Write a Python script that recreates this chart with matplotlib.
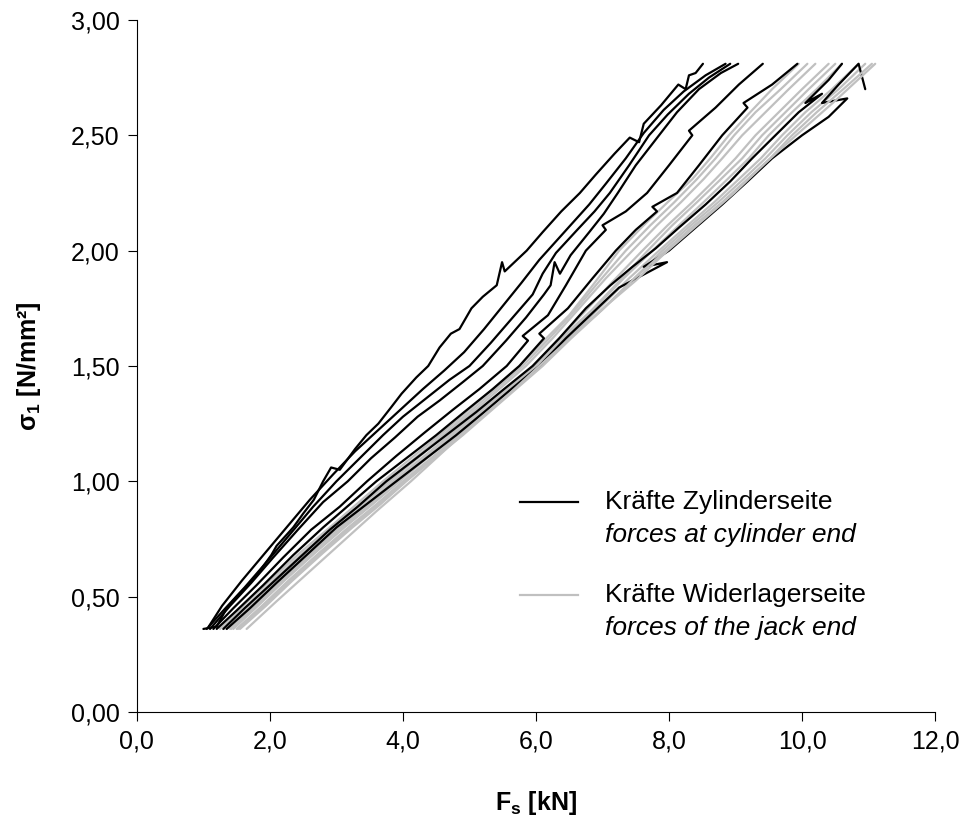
import matplotlib
matplotlib.use("Agg")
import matplotlib.pyplot as plt
from matplotlib.lines import Line2D

plt.rcParams["font.family"] = ["Liberation Sans", "DejaVu Sans"]
plt.rcParams["mathtext.fontset"] = "custom"
plt.rcParams["mathtext.rm"] = "Liberation Sans"
plt.rcParams["mathtext.it"] = "Liberation Sans:italic"
plt.rcParams["mathtext.bf"] = "Liberation Sans:bold"

# ---- axis ticks -------------------------------------------------------------
x_ticks = [0, 2, 4, 6, 8, 10, 12]
x_tick_labels = ["0,0", "2,0", "4,0", "6,0", "8,0", "10,0", "12,0"]
y_ticks = [0.0, 0.5, 1.0, 1.5, 2.0, 2.5, 3.0]
y_tick_labels = ["0,00", "0,50", "1,00", "1,50", "2,00", "2,50", "3,00"]

# ---- forces at cylinder end (black) : F_s [kN], sigma_1 [N/mm²] --------------
cyl1_f = [1.00, 1.20, 1.35, 1.50, 1.70, 1.82, 2.02, 2.10, 2.35, 2.50, 2.66, 2.80,
          2.92, 3.05, 3.28, 3.45, 3.63, 3.82, 3.98, 4.20, 4.38, 4.55, 4.72, 4.85,
          5.03, 5.20, 5.41, 5.49, 5.53, 5.86, 6.10, 6.38, 6.66, 6.90, 7.18, 7.41,
          7.55, 7.62, 7.88, 8.14, 8.25, 8.30, 8.40, 8.51]
cyl1_s = [0.36, 0.37, 0.45, 0.50, 0.56, 0.60, 0.68, 0.72, 0.80, 0.86, 0.92, 1.00,
          1.06, 1.05, 1.14, 1.20, 1.25, 1.32, 1.38, 1.45, 1.50, 1.58, 1.64, 1.66,
          1.75, 1.80, 1.85, 1.95, 1.91, 2.00, 2.08, 2.17, 2.25, 2.33, 2.42, 2.49,
          2.47, 2.55, 2.63, 2.72, 2.70, 2.76, 2.77, 2.81]

cyl2_f = [1.05, 1.30, 1.62, 1.95, 2.30, 2.65, 3.00, 3.35, 3.70, 4.00, 4.35, 4.70,
          5.00, 5.32, 5.62, 5.95, 6.10, 6.30, 6.62, 6.88, 7.11, 7.40, 7.70, 7.98,
          8.30, 8.60, 8.92]
cyl2_s = [0.36, 0.44, 0.54, 0.65, 0.77, 0.89, 1.00, 1.10, 1.20, 1.28, 1.36, 1.44,
          1.50, 1.60, 1.70, 1.81, 1.90, 1.99, 2.09, 2.17, 2.25, 2.37, 2.50, 2.59,
          2.68, 2.75, 2.81]

# unloading branch running just beside run 2
cyl2r_f = [8.85, 8.55, 8.22, 7.92, 7.62, 7.35, 7.05, 6.80, 6.55, 6.30, 6.05, 5.78,
           5.50, 5.22, 4.92, 4.62, 4.30, 3.96, 3.62, 3.28, 2.95, 2.60, 2.25, 1.90,
           1.58, 1.28, 1.08]
cyl2r_s = [2.81, 2.76, 2.69, 2.61, 2.51, 2.40, 2.29, 2.20, 2.12, 2.04, 1.96, 1.86,
           1.76, 1.66, 1.56, 1.48, 1.40, 1.31, 1.22, 1.13, 1.03, 0.92, 0.80, 0.68,
           0.57, 0.46, 0.37]

cyl3_f = [1.10, 1.40, 1.72, 2.05, 2.42, 2.80, 3.17, 3.52, 3.88, 4.22, 4.55, 4.90,
          5.20, 5.55, 5.85, 6.12, 6.22, 6.28, 6.36, 6.52, 6.80, 7.02, 7.23, 7.50,
          7.85, 8.12, 8.45, 8.78, 9.04]
cyl3_s = [0.36, 0.46, 0.56, 0.67, 0.79, 0.91, 1.00, 1.10, 1.19, 1.28, 1.35, 1.43,
          1.50, 1.61, 1.71, 1.81, 1.85, 1.95, 1.90, 1.98, 2.08, 2.16, 2.25, 2.37,
          2.50, 2.60, 2.70, 2.77, 2.81]

cyl4_f = [1.15, 1.45, 1.80, 2.20, 2.62, 3.05, 3.46, 3.90, 4.32, 4.75, 5.15, 5.56,
          5.88, 5.80, 6.18, 6.45, 6.75, 7.05, 7.00, 7.35, 7.67, 8.00, 8.35, 8.30,
          8.70, 9.05, 9.41]
cyl4_s = [0.36, 0.45, 0.55, 0.67, 0.79, 0.89, 1.00, 1.11, 1.21, 1.31, 1.40, 1.50,
          1.61, 1.63, 1.72, 1.85, 2.00, 2.09, 2.11, 2.17, 2.25, 2.37, 2.50, 2.52,
          2.62, 2.72, 2.81]

cyl5_f = [1.20, 1.50, 1.90, 2.35, 2.80, 3.20, 3.60, 4.05, 4.50, 4.92, 5.35, 5.75,
          6.12, 6.05, 6.48, 6.85, 7.20, 7.50, 7.82, 7.75, 8.12, 8.45, 8.80, 9.18,
          9.12, 9.55, 9.93]
cyl5_s = [0.36, 0.44, 0.55, 0.68, 0.80, 0.90, 1.00, 1.10, 1.20, 1.30, 1.40, 1.50,
          1.62, 1.64, 1.75, 1.88, 2.00, 2.09, 2.17, 2.19, 2.25, 2.37, 2.50, 2.62,
          2.64, 2.72, 2.81]

cyl6_f = [1.30, 1.62, 2.00, 2.45, 2.90, 3.32, 3.75, 4.20, 4.65, 5.10, 5.52, 5.95,
          6.35, 6.75, 7.12, 7.45, 7.80, 8.15, 8.55, 8.92, 9.25, 9.60, 9.95, 10.30,
          10.05, 10.40, 10.60]
cyl6_s = [0.36, 0.45, 0.55, 0.67, 0.79, 0.89, 1.00, 1.10, 1.20, 1.30, 1.40, 1.50,
          1.62, 1.75, 1.85, 1.93, 2.01, 2.10, 2.20, 2.30, 2.40, 2.50, 2.60, 2.68,
          2.64, 2.74, 2.81]

cyl7_f = [1.35, 1.70, 2.10, 2.55, 3.00, 3.45, 3.90, 4.35, 4.80, 5.22, 5.63, 6.05,
          6.45, 6.85, 7.25, 7.97, 7.62, 8.00, 8.40, 8.80, 9.18, 9.55, 10.00, 10.40,
          10.68, 10.30, 10.55, 10.85, 10.95]
cyl7_s = [0.36, 0.45, 0.56, 0.68, 0.80, 0.90, 1.00, 1.10, 1.20, 1.30, 1.40, 1.50,
          1.62, 1.73, 1.84, 1.95, 1.93, 2.00, 2.10, 2.20, 2.30, 2.40, 2.50, 2.58,
          2.66, 2.64, 2.72, 2.81, 2.70]

# ---- forces at jack end (grey) -----------------------------------------------
jack1_f = [1.25, 1.60, 2.00, 2.45, 2.90, 3.30, 3.70, 4.12, 4.55, 4.95, 5.35, 5.75,
           6.12, 6.50, 6.88, 7.25, 7.62, 7.98, 8.35, 8.62, 8.90, 9.22, 9.55, 9.95]
jack1_s = [0.36, 0.46, 0.57, 0.69, 0.80, 0.90, 1.00, 1.10, 1.20, 1.30, 1.40, 1.50,
           1.61, 1.72, 1.86, 2.00, 2.11, 2.21, 2.31, 2.40, 2.50, 2.60, 2.70, 2.81]

jack1r_f = [10.08, 9.68, 9.30, 8.98, 8.70, 8.42, 8.08, 7.72, 7.35, 6.96, 6.58, 6.20,
            5.80, 5.40, 5.00, 4.60, 4.18, 3.75, 3.35, 2.95, 2.50, 2.05, 1.66, 1.30]
jack1r_s = [2.81, 2.70, 2.60, 2.50, 2.40, 2.31, 2.21, 2.11, 2.00, 1.87, 1.74, 1.62,
            1.50, 1.40, 1.30, 1.20, 1.10, 1.00, 0.90, 0.80, 0.69, 0.57, 0.46, 0.36]

jack2_f = [1.35, 1.70, 2.10, 2.55, 3.00, 3.40, 3.80, 4.22, 4.62, 5.05, 5.45, 5.85,
           6.25, 6.65, 7.05, 7.45, 7.82, 8.18, 8.52, 8.80, 9.10, 9.45, 9.80, 10.20]
jack2_s = [0.36, 0.46, 0.57, 0.69, 0.80, 0.90, 1.00, 1.10, 1.20, 1.30, 1.40, 1.50,
           1.62, 1.75, 1.88, 2.00, 2.11, 2.21, 2.31, 2.40, 2.50, 2.60, 2.70, 2.81]

jack3_f = [1.40, 1.76, 2.16, 2.60, 3.05, 3.45, 3.85, 4.28, 4.70, 5.12, 5.55, 5.95,
           6.35, 6.78, 7.20, 7.60, 7.98, 8.35, 8.70, 9.00, 9.30, 9.65, 10.00, 10.40]
jack3_s = [0.36, 0.46, 0.57, 0.69, 0.80, 0.90, 1.00, 1.10, 1.20, 1.30, 1.40, 1.50,
           1.62, 1.75, 1.88, 2.00, 2.11, 2.21, 2.31, 2.40, 2.50, 2.60, 2.70, 2.81]

jack3r_f = [10.50, 10.10, 9.75, 9.40, 9.10, 8.78, 8.42, 8.05, 7.68, 7.26, 6.83, 6.38,
            5.97, 5.58, 5.16, 4.74, 4.32, 3.90, 3.50, 3.08, 2.64, 2.19, 1.79, 1.42]
jack3r_s = [2.81, 2.70, 2.60, 2.50, 2.40, 2.31, 2.21, 2.11, 2.00, 1.87, 1.74, 1.62,
            1.50, 1.40, 1.30, 1.20, 1.10, 1.00, 0.90, 0.80, 0.69, 0.57, 0.46, 0.36]

jack4_f = [1.45, 1.82, 2.22, 2.68, 3.12, 3.54, 3.95, 4.36, 4.78, 5.20, 5.60, 6.00,
           6.42, 6.88, 7.32, 7.75, 8.15, 8.52, 8.88, 9.20, 9.50, 9.85, 10.22, 10.60]
jack4_s = [0.36, 0.46, 0.57, 0.69, 0.80, 0.90, 1.00, 1.10, 1.20, 1.30, 1.40, 1.50,
           1.62, 1.75, 1.88, 2.00, 2.11, 2.21, 2.31, 2.40, 2.50, 2.60, 2.70, 2.81]

jack5_f = [1.50, 1.88, 2.28, 2.74, 3.18, 3.60, 4.00, 4.42, 4.84, 5.25, 5.65, 6.05,
           6.48, 6.95, 7.40, 7.85, 8.28, 8.68, 9.05, 9.38, 9.70, 10.05, 10.45, 10.85]
jack5_s = [0.36, 0.46, 0.57, 0.69, 0.80, 0.90, 1.00, 1.10, 1.20, 1.30, 1.40, 1.50,
           1.62, 1.75, 1.88, 2.00, 2.11, 2.21, 2.31, 2.40, 2.50, 2.60, 2.70, 2.81]

jack5r_f = [10.95, 10.55, 10.14, 9.78, 9.45, 9.12, 8.74, 8.33, 7.90, 7.44, 6.98, 6.50,
            6.08, 5.68, 5.28, 4.87, 4.45, 4.02, 3.63, 3.21, 2.77, 2.31, 1.91, 1.52]
jack5r_s = [2.81, 2.70, 2.60, 2.50, 2.40, 2.31, 2.21, 2.11, 2.00, 1.87, 1.74, 1.62,
            1.50, 1.40, 1.30, 1.20, 1.10, 1.00, 0.90, 0.80, 0.69, 0.57, 0.46, 0.36]

jack6_f = [1.55, 1.94, 2.34, 2.80, 3.24, 3.66, 4.05, 4.47, 4.90, 5.30, 5.70, 6.10,
           6.53, 7.02, 7.48, 7.95, 8.38, 8.80, 9.18, 9.52, 9.85, 10.22, 10.62, 11.05]
jack6_s = [0.36, 0.46, 0.57, 0.69, 0.80, 0.90, 1.00, 1.10, 1.20, 1.30, 1.40, 1.50,
           1.62, 1.75, 1.88, 2.00, 2.11, 2.21, 2.31, 2.40, 2.50, 2.60, 2.70, 2.81]

jack7_f = [1.65, 2.10, 2.60, 3.10, 3.60, 4.12, 4.65, 5.15, 5.60, 6.05, 6.55, 7.05,
           7.50, 7.98, 8.50, 8.98, 9.45, 9.91, 10.50, 11.10]
jack7_s = [0.36, 0.48, 0.61, 0.74, 0.87, 1.00, 1.14, 1.27, 1.38, 1.50, 1.63, 1.76,
           1.87, 2.00, 2.13, 2.25, 2.38, 2.50, 2.65, 2.81]

cylinder_runs = [(cyl1_f, cyl1_s), (cyl2_f, cyl2_s), (cyl2r_f, cyl2r_s),
                 (cyl3_f, cyl3_s), (cyl4_f, cyl4_s), (cyl5_f, cyl5_s),
                 (cyl6_f, cyl6_s), (cyl7_f, cyl7_s)]
jack_runs = [(jack1_f, jack1_s), (jack1r_f, jack1r_s), (jack2_f, jack2_s),
             (jack3_f, jack3_s), (jack3r_f, jack3r_s), (jack4_f, jack4_s),
             (jack5_f, jack5_s), (jack5r_f, jack5r_s), (jack6_f, jack6_s),
             (jack7_f, jack7_s)]

legend_labels = [("Kräfte Zylinderseite", "forces at cylinder end"),
                 ("Kräfte Widerlagerseite", "forces of the jack end")]

CYL_COLOR = "#000000"
JACK_COLOR = "#C0C0C0"

fig = plt.figure(figsize=(9.64, 8.18), dpi=100)
ax = fig.add_axes([0.142, 0.1296, 0.970 - 0.142, 0.9756 - 0.1296])

# interleave the two sides so neither family fully hides the other
for i in range(max(len(cylinder_runs), len(jack_runs))):
    if i < len(jack_runs):
        f, s = jack_runs[i]
        ax.plot(f, s, color=JACK_COLOR, lw=1.6, solid_joinstyle="round",
                solid_capstyle="round")
    if i < len(cylinder_runs):
        f, s = cylinder_runs[i]
        ax.plot(f, s, color=CYL_COLOR, lw=1.6, solid_joinstyle="round",
                solid_capstyle="round")

ax.set_xlim(0, 12)
ax.set_ylim(0, 3)
ax.set_xticks(x_ticks)
ax.set_xticklabels(x_tick_labels)
ax.set_yticks(y_ticks)
ax.set_yticklabels(y_tick_labels)
ax.tick_params(direction="out", length=6.5, width=0.8, labelsize=18, pad=6,
               color="black")
for side in ("top", "right"):
    ax.spines[side].set_visible(False)
for side in ("left", "bottom"):
    ax.spines[side].set_linewidth(0.8)

ax.set_xlabel(r"F$_\mathbf{s}$ [kN]", fontsize=18, fontweight="bold", labelpad=26)
ax.set_ylabel(r"σ$_\mathbf{1}$ [N/mm²]", fontsize=18, fontweight="bold", labelpad=20)

# legend drawn as line samples with two-line captions
legend_rows = [(0.3035, CYL_COLOR), (0.169, JACK_COLOR)]
for (y, color), (main, sub) in zip(legend_rows, legend_labels):
    ax.add_line(Line2D([0.480, 0.553], [y, y], transform=ax.transAxes,
                       color=color, lw=1.6))
    ax.text(0.5865, y, main, transform=ax.transAxes, fontsize=19,
            va="center", ha="left")
    ax.text(0.5865, y - 0.0475, sub, transform=ax.transAxes, fontsize=19,
            style="italic", va="center", ha="left")

fig.savefig("out.png", dpi=100)
